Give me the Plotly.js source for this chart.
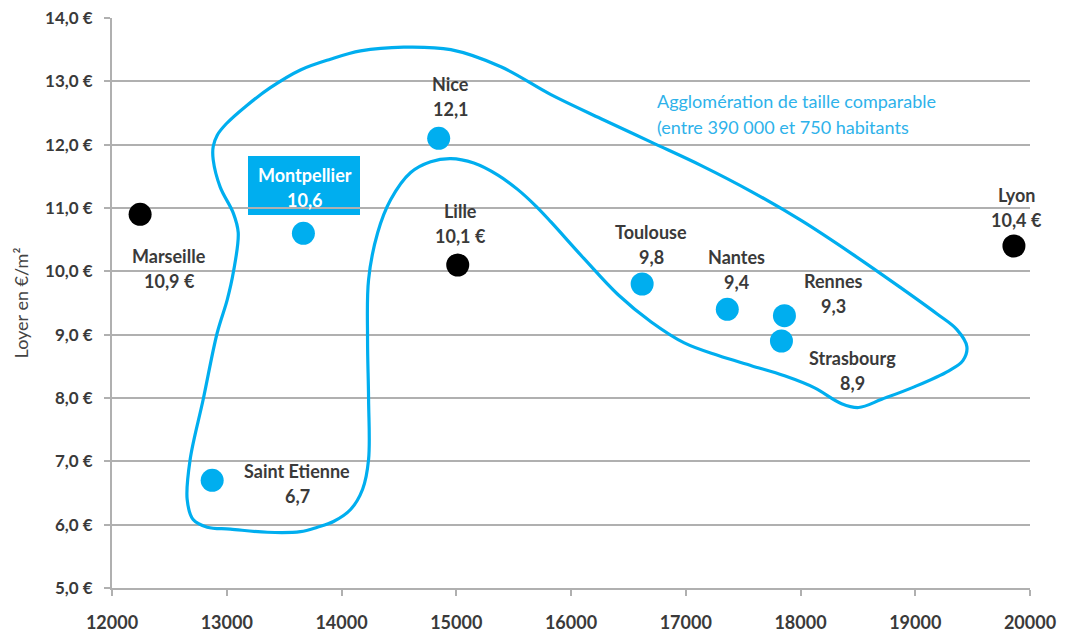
<!DOCTYPE html>
<html>
<head>
<meta charset="utf-8">
<script src="https://cdn.plot.ly/plotly-3.0.1.min.js"></script>
<style>html,body{margin:0;padding:0;background:#fff;}#chart{width:1067px;height:633px;}</style>
</head>
<body>
<div id="chart"></div>
<script>
// ---- data ----
const cities   = ["Marseille","Saint Etienne","Montpellier","Nice","Lille","Toulouse","Nantes","Rennes","Strasbourg","Lyon"];
const xValues  = [12245, 12873, 13668, 14847, 15013, 16620, 17362, 17860, 17834, 19860];
const rents    = [10.9, 6.7, 10.6, 12.1, 10.1, 9.8, 9.4, 9.3, 8.9, 10.4];
const comparable = [false, true, true, true, false, true, true, true, true, false];
const groupNote = ["Agglomération de taille comparable", "(entre 390 000 et 750 habitants"];
// outline of the "comparable size" group (data units)
const outlineX = [12882,12917,12996,13162,13380,13642,13904,14166,14542,14952,15389,15825,16262,16699,17136,17572,18009,18446,18882,19188,19363,19450,19415,19293,18996,18708,18507,18358,18123,17861,17572,17284,16987,16699,16411,16114,15825,15694,15537,15363,15153,14952,14777,14603,14428,14315,14236,14227,14236,14236,14184,14079,13930,13790,13642,13354,13031,12830,12707,12655,12681,12795,12917,13004,13057,13100,13057,12943,12882,12882];
const outlineY = [11.97,12.15,12.33,12.60,12.90,13.18,13.35,13.48,13.54,13.50,13.23,12.79,12.41,12.04,11.67,11.26,10.80,10.28,9.73,9.33,9.08,8.81,8.59,8.43,8.18,7.98,7.85,7.91,8.16,8.35,8.51,8.67,8.87,9.20,9.63,10.20,10.78,11.03,11.29,11.52,11.71,11.78,11.73,11.56,11.13,10.61,9.87,8.92,7.98,7.03,6.56,6.24,6.05,5.96,5.89,5.88,5.93,5.96,6.08,6.40,7.03,7.98,9.03,9.55,9.98,10.61,10.92,11.33,11.76,11.97];

// ---- styles ----
const BLUE = "#00AEEF";
const TXT = "#3a3a3a";
const FONT = "Lato, 'Open Sans', sans-serif";
// name-line centre relative to marker centre, screen px (dy > 0 = below)
const labelOffsets = [[29,42],[85,-9],[2,-58],[12,-54],[3,-54],[9,-52],[9,-52],[49,-35],[71,17],[3,-51]];
const lineGap = 25;
const W = 1067, H = 633, M = {l: 112, r: 37, t: 18, b: 45};
const pw = W - M.l - M.r, ph = H - M.t - M.b;
const px2paperX = p => (p - M.l) / pw;
const px2paperY = p => 1 - (p - M.t) / ph;

const traces = [
  {x: outlineX, y: outlineY, mode: "lines", line: {color: BLUE, width: 3.2, shape: "spline", smoothing: 1}, hoverinfo: "skip", showlegend: false},
  {x: xValues, y: rents, mode: "markers", showlegend: false,
   marker: {size: 23, color: comparable.map(c => c ? BLUE : "#000000")}}
];

const annotations = [];
cities.forEach((c, i) => {
  const [dx, dy] = labelOffsets[i];
  const val = rents[i].toFixed(1).replace(".", ",") + (comparable[i] ? "" : " €");
  const isBox = c === "Montpellier";
  const col = isBox ? "#ffffff" : TXT;
  annotations.push({x: xValues[i], y: rents[i], xref: "x", yref: "y", text: "<b>" + c + "</b>", showarrow: false,
    xshift: dx, yshift: -dy, font: {family: FONT, size: 18, color: col}});
  annotations.push({x: xValues[i], y: rents[i], xref: "x", yref: "y", text: "<b>" + val + "</b>", showarrow: false,
    xshift: dx, yshift: -dy - lineGap, font: {family: FONT, size: 18, color: col}});
});
groupNote.forEach((t, k) => {
  annotations.push({x: px2paperX(655), y: px2paperY(101 + k * 26), xref: "paper", yref: "paper", text: t, showarrow: false,
    xanchor: "left", yanchor: "middle", font: {family: FONT, size: 18, color: "#2EB2EA"}});
});

const shapes = [{
  type: "rect", xref: "paper", yref: "paper",
  x0: px2paperX(248), x1: px2paperX(360), y0: px2paperY(215), y1: px2paperY(156),
  fillcolor: BLUE, line: {width: 0}, layer: "below"
}];

const layout = {
  width: W, height: H,
  margin: M,
  paper_bgcolor: "#ffffff", plot_bgcolor: "#ffffff",
  separators: ", ",
  font: {family: FONT, color: TXT},
  xaxis: {range: [12000, 20000], dtick: 1000, tick0: 12000, tickformat: "d",
    showgrid: false, zeroline: false, showline: true, linecolor: "#b0b0b0", linewidth: 2,
    ticks: "outside", ticklen: 6, tickcolor: "#b0b0b0", tickwidth: 2, ticklabelstandoff: 11,
    tickfont: {family: FONT, size: 18, color: TXT, weight: "bold"}},
  yaxis: {range: [5, 14], dtick: 1, tick0: 5, tickformat: ".1f", ticksuffix: " €",
    showgrid: true, gridcolor: "#b0b0b0", gridwidth: 2, zeroline: false,
    showline: true, linecolor: "#b0b0b0", linewidth: 2,
    ticks: "outside", ticklen: 6, tickcolor: "#b0b0b0", tickwidth: 2, ticklabelstandoff: 8,
    tickfont: {family: FONT, size: 17, color: TXT, weight: "bold"},
    title: {text: "Loyer en €/m²", font: {family: FONT, size: 18, color: "#444"}, standoff: 12}},
  annotations: annotations,
  shapes: shapes
};

Plotly.newPlot("chart", traces, layout, {displayModeBar: false, staticPlot: true});
</script>
</body>
</html>
